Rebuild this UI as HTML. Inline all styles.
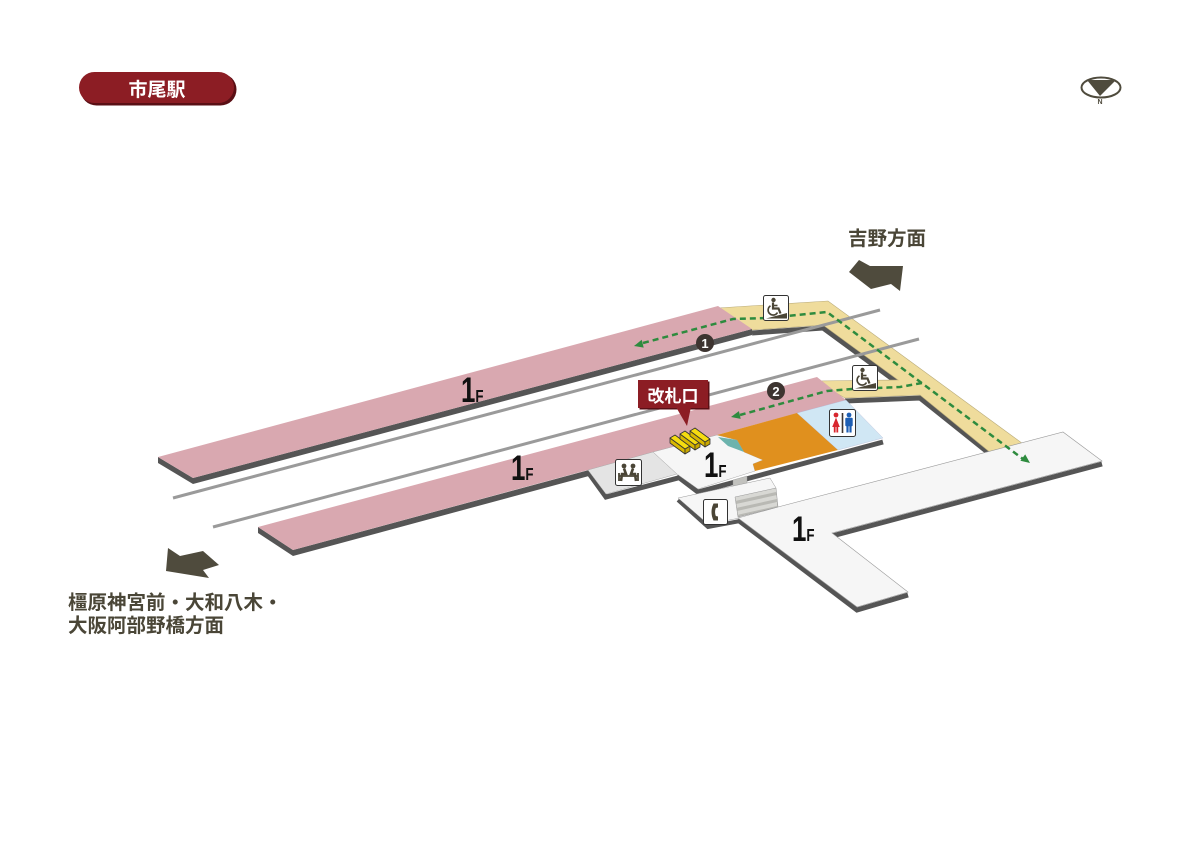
<!DOCTYPE html>
<html><head><meta charset="utf-8">
<style>
html,body{margin:0;padding:0;background:#fff;}
svg{display:block;}
.cjk{font-family:"Liberation Sans","Noto Sans CJK JP",sans-serif;}
.fl{font-family:"Liberation Sans",sans-serif;font-weight:bold;fill:#111;}
</style></head><body>
<svg width="1200" height="848" viewBox="0 0 1200 848" xmlns="http://www.w3.org/2000/svg">
<rect width="1200" height="848" fill="#fff"/>

<!-- Title pill -->
<rect x="80.5" y="73.5" width="156" height="32" rx="16" fill="#5a0f15"/>
<rect x="79" y="72" width="155" height="31" rx="15.5" fill="#8c1d24"/>
<text x="157" y="96" font-size="19" fill="#fff" text-anchor="middle" class="cjk" font-weight="bold">市尾駅</text>

<!-- North icon -->
<ellipse cx="1101" cy="87.5" rx="19.5" ry="10" fill="none" stroke="#4f4b3d" stroke-width="2"/>
<polygon points="1087,80 1116,80 1100,96" fill="#4f4b3d"/>
<text x="1100" y="104" font-size="7" fill="#4f4b3d" text-anchor="middle" font-family="Liberation Sans, sans-serif" font-weight="bold">N</text>

<!-- Direction arrows -->
<polygon points="849,272 859,260 870,266 903,266 900,291 891,284 871,289" fill="#4f4b3d"/>
<polygon points="168,548 180,556 203,551 219,565 203,570 209,578 166,571" fill="#4f4b3d"/>
<text x="848" y="245" font-size="19.5" fill="#4a4637" class="cjk" font-weight="bold">吉野方面</text>
<text x="68" y="609" font-size="19.5" fill="#4a4637" class="cjk" font-weight="bold">橿原神宮前・大和八木・</text>
<text x="68" y="632" font-size="19.5" fill="#4a4637" class="cjk" font-weight="bold">大阪阿部野橋方面</text>

<!-- Tan walkway shadow -->
<polyline points="752,333 823,328 898,383" fill="none" stroke="#555" stroke-width="5"/>
<polyline points="845,401 920,398 995,458" fill="none" stroke="#555" stroke-width="5"/>
<!-- Tan walkway -->
<polygon points="718,308 828,301 1030,449 997,458 920,395 845,398 815,381 898,380 823,325 752,330" fill="#efdc9c" stroke="#b9ab7a" stroke-width="0.6"/>

<!-- Tracks -->
<line x1="173" y1="498" x2="880" y2="310" stroke="#9a9a9a" stroke-width="3"/>
<line x1="213" y1="527" x2="919" y2="339" stroke="#9a9a9a" stroke-width="3"/>

<!-- Platform 1 -->
<polygon points="158,457 193,478 752,329 752,335 193,484 158,463" fill="#555"/>
<polygon points="158,457 718,306 752,329 193,478" fill="#d9a8b0"/>

<!-- Platform 2 -->
<polygon points="258,527 293,550 600,467 600,473 293,556 258,533" fill="#555"/>
<polygon points="258,527 817,377 846,400 293,550" fill="#d9a8b0"/>

<!-- Waiting area (gray) -->
<polyline points="588,472 606,497 678,478" fill="none" stroke="#555" stroke-width="5"/>
<polygon points="588,470 653,452 677,474 606,494" fill="#e4e4e4" stroke="#aaa" stroke-width="0.5"/>

<!-- Ticket floor shadow -->
<polyline points="677,476 698,492 883,442" fill="none" stroke="#555" stroke-width="5"/>
<!-- White ticket area -->
<polygon points="653,452 717,435 737,440 744,452 763,460 753,464 755,471 698,489 677,474" fill="#f6f6f6" stroke="#aaa" stroke-width="0.5"/>
<!-- Orange -->
<polygon points="717,435 797,413 838,450 755,471 753,464 763,460 744,452 737,440" fill="#e0901e"/>
<!-- Teal -->
<polygon points="718,437 737,440 744,452 728,446" fill="#6cb3ad"/>
<!-- Light blue -->
<polygon points="797,413 846,400 883,438 838,450" fill="#d0e7f4" stroke="#aac" stroke-width="0.3"/>

<!-- small connector -->
<polygon points="733,480 747,476 747,484 733,488" fill="#c2c2be" stroke="#999" stroke-width="0.4"/>

<!-- Landing -->
<polyline points="678,500 708,527 740,521" fill="none" stroke="#555" stroke-width="4"/>
<polygon points="678,498 770,478 776,488 740,498 740,518 708,524" fill="#f6f6f6" stroke="#999" stroke-width="0.5"/>

<!-- L concourse -->
<polyline points="738,520 857,610 908,595" fill="none" stroke="#555" stroke-width="5"/>
<polyline points="832,536 1102,464" fill="none" stroke="#555" stroke-width="5"/>
<polygon points="738,518 778,507 1063,432 1102,461 832,533 908,592 857,607" fill="#f6f6f6" stroke="#999" stroke-width="0.6"/>

<!-- Stairs -->
<polygon points="735,497 776,488 778,507 738,517" fill="#b9b9b4"/>
<polygon points="735,497 776,488 776,492 735,501" fill="#d8d8d4"/>
<polygon points="736,504 777,495 777,499 736,508" fill="#d8d8d4"/>
<polygon points="737,511 777,502 777,506 737,515" fill="#d8d8d4"/>
<polygon points="735,497 776,488 778,507 738,517" fill="none" stroke="#999" stroke-width="0.5"/>

<!-- Green routes -->
<g fill="none" stroke="#2e8b3e" stroke-width="2.5" stroke-dasharray="6,4">
<polyline points="643,343 733,319 767,318 827,312 1023,459"/>
<polyline points="922,383 900,387 852,389 827,391 740,415"/>
</g>
<g fill="#2e8b3e">
<polygon points="634,346 643.7,347.6 641.7,339.8"/>
<polygon points="1030,463 1020.4,460.8 1025.2,454.4"/>
<polygon points="731,417 740.7,418.9 738.9,411.1"/>
</g>

<!-- Number circles -->
<circle cx="705" cy="343" r="9" fill="#3d3430"/>
<text x="705" y="348" font-size="13" fill="#fff" text-anchor="middle" font-family="Liberation Sans, sans-serif" font-weight="bold">1</text>
<circle cx="776" cy="391" r="9" fill="#3d3430"/>
<text x="776" y="396" font-size="13" fill="#fff" text-anchor="middle" font-family="Liberation Sans, sans-serif" font-weight="bold">2</text>

<!-- Wheelchair icons -->
<g transform="translate(763,295)">
<rect x="0.5" y="0.5" width="25" height="25" rx="2" fill="#fff" stroke="#333" stroke-width="1"/>
<circle cx="10.5" cy="5" r="2.2" fill="#4a4536"/>
<path d="M10,7.5 L10,13.5 L15.5,13.5 L17.5,18.5" fill="none" stroke="#4a4536" stroke-width="2.2"/>
<path d="M10,10.5 L14.5,10.5" stroke="#4a4536" stroke-width="1.6"/>
<path d="M7.5,10.8 A5,5 0 1 0 14.5,17.5" fill="none" stroke="#4a4536" stroke-width="1.7"/>
<polygon points="3,23.5 24,23.5 24,18" fill="#4a4536"/>
</g>
<g transform="translate(852,365)">
<rect x="0.5" y="0.5" width="25" height="25" rx="2" fill="#fff" stroke="#333" stroke-width="1"/>
<circle cx="10.5" cy="5" r="2.2" fill="#4a4536"/>
<path d="M10,7.5 L10,13.5 L15.5,13.5 L17.5,18.5" fill="none" stroke="#4a4536" stroke-width="2.2"/>
<path d="M10,10.5 L14.5,10.5" stroke="#4a4536" stroke-width="1.6"/>
<path d="M7.5,10.8 A5,5 0 1 0 14.5,17.5" fill="none" stroke="#4a4536" stroke-width="1.7"/>
<polygon points="3,23.5 24,23.5 24,18" fill="#4a4536"/>
</g>

<!-- Toilet icon -->
<g transform="translate(829,409)">
<rect x="0.5" y="0.5" width="26" height="27" rx="2" fill="#fff" stroke="#333" stroke-width="1"/>
<circle cx="7" cy="6" r="2.4" fill="#d8262e"/>
<polygon points="7,8.5 3.2,18 10.8,18" fill="#d8262e"/>
<rect x="4.8" y="16" width="1.8" height="7.5" fill="#d8262e"/>
<rect x="7.4" y="16" width="1.8" height="7.5" fill="#d8262e"/>
<rect x="12.7" y="4" width="1.6" height="20" fill="#3d3430"/>
<circle cx="20" cy="6" r="2.4" fill="#1e5fb4"/>
<rect x="16.3" y="8.8" width="7.4" height="8.5" rx="1" fill="#1e5fb4"/>
<rect x="17.4" y="16" width="2.2" height="7.5" fill="#1e5fb4"/>
<rect x="20.4" y="16" width="2.2" height="7.5" fill="#1e5fb4"/>
</g>

<!-- Waiting room icon -->
<g transform="translate(615,459)">
<rect x="0.5" y="0.5" width="26" height="26" rx="2" fill="#fff" stroke="#333" stroke-width="1"/>
<circle cx="9" cy="7" r="2.4" fill="#4a4536"/>
<circle cx="18" cy="7" r="2.4" fill="#4a4536"/>
<path d="M9,9.5 L11,15 L7,15 L6,22 M18,9.5 L16,15 L20,15 L21,22" fill="none" stroke="#4a4536" stroke-width="2.6"/>
<path d="M4,14 L4,22 M23,14 L23,22 M4,17 L23,17" fill="none" stroke="#4a4536" stroke-width="1.8"/>
</g>

<!-- Phone icon -->
<g transform="translate(703,499)">
<rect x="0.5" y="0.5" width="24" height="25" rx="2" fill="#fff" stroke="#333" stroke-width="1"/>
<path d="M15,4.5 L10.5,4.5 Q6.5,13 10.5,21.5 L15,21.5 L15,17.5 L12.8,17 Q11.3,13 12.8,9 L15,8.5 Z" fill="#4a4536"/>
</g>

<!-- Gates -->
<g stroke="#333" stroke-width="0.8" stroke-linejoin="round">
<g transform="translate(670,438)">
<polygon points="0,0 15,11 15,16 0,5" fill="#d9b800"/>
<polygon points="15,11 20,8 20,13 15,16" fill="#c9a800"/>
<polygon points="0,0 5,-3 20,8 15,11" fill="#f5dc10"/>
</g>
<g transform="translate(680,434)">
<polygon points="0,0 15,11 15,16 0,5" fill="#d9b800"/>
<polygon points="15,11 20,8 20,13 15,16" fill="#c9a800"/>
<polygon points="0,0 5,-3 20,8 15,11" fill="#f5dc10"/>
</g>
<g transform="translate(690,431)">
<polygon points="0,0 15,11 15,16 0,5" fill="#d9b800"/>
<polygon points="15,11 20,8 20,13 15,16" fill="#c9a800"/>
<polygon points="0,0 5,-3 20,8 15,11" fill="#f5dc10"/>
</g>
</g>

<!-- Callout -->
<rect x="639.5" y="381.5" width="70" height="28" fill="#5a0f15"/>
<polygon points="676,407 691,407 687,426" fill="#8c1d24"/>
<rect x="638" y="380" width="70" height="28" fill="#8c1d24"/>
<text x="673" y="402" font-size="17" fill="#fff" text-anchor="middle" class="cjk" font-weight="bold">改札口</text>

<!-- 1F labels -->
<text transform="translate(461,402) scale(0.74,1)" class="fl"><tspan font-size="35">1</tspan><tspan font-size="18">F</tspan></text>
<text transform="translate(511,480) scale(0.74,1)" class="fl"><tspan font-size="35">1</tspan><tspan font-size="18">F</tspan></text>
<text transform="translate(704,477) scale(0.74,1)" class="fl"><tspan font-size="35">1</tspan><tspan font-size="18">F</tspan></text>
<text transform="translate(792,541) scale(0.74,1)" class="fl"><tspan font-size="35">1</tspan><tspan font-size="18">F</tspan></text>
</svg>
</body></html>
